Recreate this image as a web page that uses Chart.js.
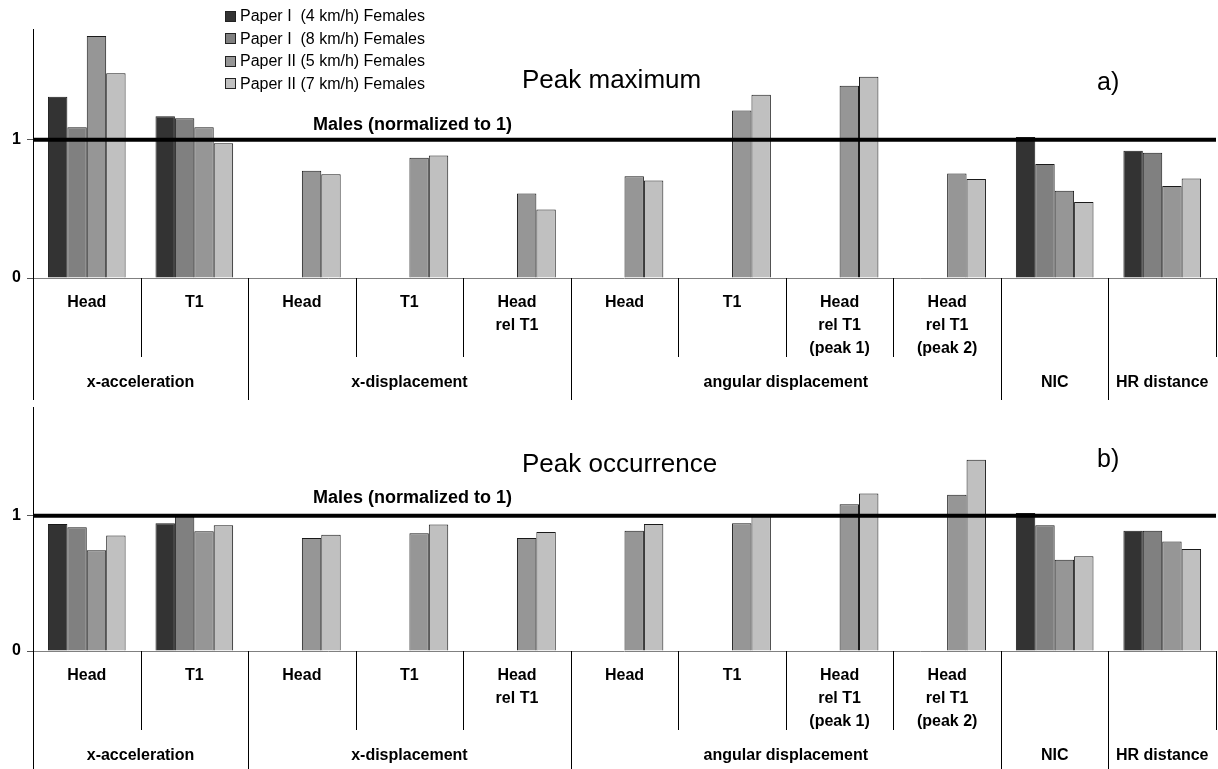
<!DOCTYPE html>
<html>
<head>
<meta charset="utf-8">
<script src="https://cdn.jsdelivr.net/npm/chart.js@4.4.1/dist/chart.umd.min.js"></script>
<style>
  body { margin: 0; background: #fff; width: 1218px; height: 769px; overflow: hidden; position: relative;
         font-family: "Liberation Sans", Arial, sans-serif; color: #000; }
  .panel { position: absolute; left: 0; width: 1218px; }
  #pa { top: 0; height: 400px; }
  #pb { top: 392px; height: 377px; }
  .txt { position: absolute; white-space: pre; line-height: 1; }
  .title { font-size: 26px; }
  .tag { font-size: 25px; }
  .males { font-size: 18px; font-weight: bold; }
  #legend { position: absolute; left: 225px; top: 5px; font-size: 16px; }
  #legend .row { display: flex; align-items: center; height: 22.5px; white-space: pre; }
  #legend .sw { width: 9px; height: 9px; border: 1px solid #222; margin-right: 4px; }
</style>
</head>
<body>
<div class="panel" id="pa"><canvas id="chartA"></canvas></div>
<div class="panel" id="pb"><canvas id="chartB"></canvas></div>
<div id="legend"></div>

<div class="txt title" style="left:522px; top:66px;">Peak maximum</div>
<div class="txt tag" style="left:1097px; top:69px;">a)</div>
<div class="txt males" style="left:313px; top:115px;">Males (normalized to 1)</div>

<div class="txt title" style="left:522px; top:450px;">Peak occurrence</div>
<div class="txt tag" style="left:1097px; top:446px;">b)</div>
<div class="txt males" style="left:313px; top:488px;">Males (normalized to 1)</div>

<script>
// categories (inner row) and their groups (outer row)
const categories = [
    ['Head'], ['T1'],
    ['Head'], ['T1'], ['Head', 'rel T1'],
    ['Head'], ['T1'], ['Head', 'rel T1', '(peak 1)'], ['Head', 'rel T1', '(peak 2)'],
    [''], [''],
];
const groupLabels = ['x-acceleration', 'x-displacement', 'angular displacement', 'NIC', 'HR distance'];
const groupSpans = [2, 3, 4, 1, 1];

const seriesNames = [
    'Paper I  (4 km/h) Females',
    'Paper I  (8 km/h) Females',
    'Paper II (5 km/h) Females',
    'Paper II (7 km/h) Females',
];
const seriesColors = ['#333333', '#808080', '#969696', '#c0c0c0'];

const yTicks = [0, 1];

// a) peak maximum, normalized to males
const maxP1v4 = [1.31, 1.17, null, null, null, null, null, null, null, 1.02, 0.92];
const maxP1v8 = [1.09, 1.155, null, null, null, null, null, null, null, 0.825, 0.905];
const maxP2v5 = [1.75, 1.09, 0.775, 0.87, 0.61, 0.735, 1.21, 1.39, 0.755, 0.63, 0.665];
const maxP2v7 = [1.48, 0.975, 0.75, 0.885, 0.495, 0.705, 1.325, 1.455, 0.715, 0.55, 0.72];

// b) peak occurrence, normalized to males
const occP1v4 = [0.94, 0.945, null, null, null, null, null, null, null, 1.02, 0.89];
const occP1v8 = [0.915, 0.995, null, null, null, null, null, null, null, 0.93, 0.89];
const occP2v5 = [0.745, 0.885, 0.835, 0.87, 0.835, 0.89, 0.945, 1.085, 1.155, 0.675, 0.81];
const occP2v7 = [0.855, 0.93, 0.86, 0.935, 0.88, 0.94, 1.0, 1.165, 1.415, 0.70, 0.755];

const FONT = '"Liberation Sans", Arial, sans-serif';

// legend
const legendEl = document.getElementById('legend');
seriesNames.forEach((name, i) => {
    const row = document.createElement('div');
    row.className = 'row';
    const sw = document.createElement('span');
    sw.className = 'sw';
    sw.style.background = seriesColors[i];
    row.appendChild(sw);
    row.appendChild(document.createTextNode(name));
    legendEl.appendChild(row);
});

// males line + the two-level category axis below the plot
const panelDeco = {
    id: 'panelDeco',
    afterDatasetsDraw(chart) {
        const { ctx, chartArea: a, scales: { y } } = chart;
        const y1 = y.getPixelForValue(1);
        ctx.save();
        ctx.strokeStyle = '#000';
        ctx.lineWidth = 4;
        ctx.beginPath();
        ctx.moveTo(a.left, y1);
        ctx.lineTo(a.right, y1);
        ctx.stroke();
        ctx.restore();
    },
    afterDraw(chart, args, opts) {
        const { ctx, chartArea: a, scales: { x, y } } = chart;
        const y0 = y.getPixelForValue(0);
        const bottom = chart.height;
        const half = (x.getPixelForValue(1) - x.getPixelForValue(0)) / 2;
        const edge = i => x.getPixelForValue(i) - half;

        const groupEdges = [];
        let acc = 0;
        groupSpans.forEach(s => { acc += s; groupEdges.push(acc); });

        ctx.save();
        // zero line
        ctx.strokeStyle = '#808080';
        ctx.lineWidth = 1;
        ctx.beginPath();
        ctx.moveTo(a.left, y0 + 0.5);
        ctx.lineTo(a.right, y0 + 0.5);
        ctx.stroke();

        // separators
        ctx.strokeStyle = '#000';
        ctx.beginPath();
        ctx.moveTo(a.left + 0.5, y0);
        ctx.lineTo(a.left + 0.5, bottom);
        for (let k = 1; k <= categories.length; k++) {
            const px = Math.round(edge(k)) + 0.5;
            const long = groupEdges.includes(k) && k < categories.length;
            ctx.moveTo(px, y0);
            ctx.lineTo(px, long ? bottom : y0 + opts.innerLen);
        }
        ctx.stroke();

        // inner labels
        ctx.fillStyle = '#000';
        ctx.textAlign = 'center';
        ctx.textBaseline = 'middle';
        ctx.font = 'bold 16px ' + FONT;
        categories.forEach((lines, i) => {
            const cx = x.getPixelForValue(i);
            lines.forEach((t, j) => ctx.fillText(t, cx, y0 + 25 + j * 23));
        });

        // group labels
        let start = 0;
        groupLabels.forEach((g, i) => {
            const cx = (edge(start) + edge(start + groupSpans[i])) / 2;
            ctx.fillText(g, cx, y0 + 105);
            start += groupSpans[i];
        });
        ctx.restore();
    },
};

function makeChart(id, values, padTop, padBottom) {
    return new Chart(document.getElementById(id), {
        type: 'bar',
        data: {
            labels: categories.map(c => c.join(' ')),
            datasets: values.map((data, i) => ({
                label: seriesNames[i],
                data,
                backgroundColor: seriesColors[i],
                borderColor: '#1a1a1a',
                borderWidth: 1,
                categoryPercentage: 0.722,
                barPercentage: 1.0,
            })),
        },
        options: {
            responsive: true,
            maintainAspectRatio: false,
            animation: false,
            layout: { padding: { top: padTop, bottom: padBottom, left: 0, right: 2 } },
            plugins: {
                legend: { display: false },
                tooltip: { enabled: false },
                panelDeco: { innerLen: 79 },
            },
            scales: {
                x: { display: false },
                y: {
                    min: 0,
                    max: 1.8,
                    afterBuildTicks: s => { s.ticks = yTicks.map(v => ({ value: v })); },
                    afterFit: s => { s.width = 33; },
                    grid: { drawOnChartArea: false, drawTicks: true, tickLength: 6, color: '#555' },
                    border: { display: true, color: '#000', width: 1 },
                    ticks: { color: '#000', padding: 6, font: { family: FONT, size: 16, weight: 'bold' } },
                },
            },
        },
        plugins: [panelDeco],
    });
}

makeChart('chartA', [maxP1v4, maxP1v8, maxP2v5, maxP2v7], 29, 122);
makeChart('chartB', [occP1v4, occP1v8, occP2v5, occP2v7], 9, 118);
</script>
</body>
</html>
